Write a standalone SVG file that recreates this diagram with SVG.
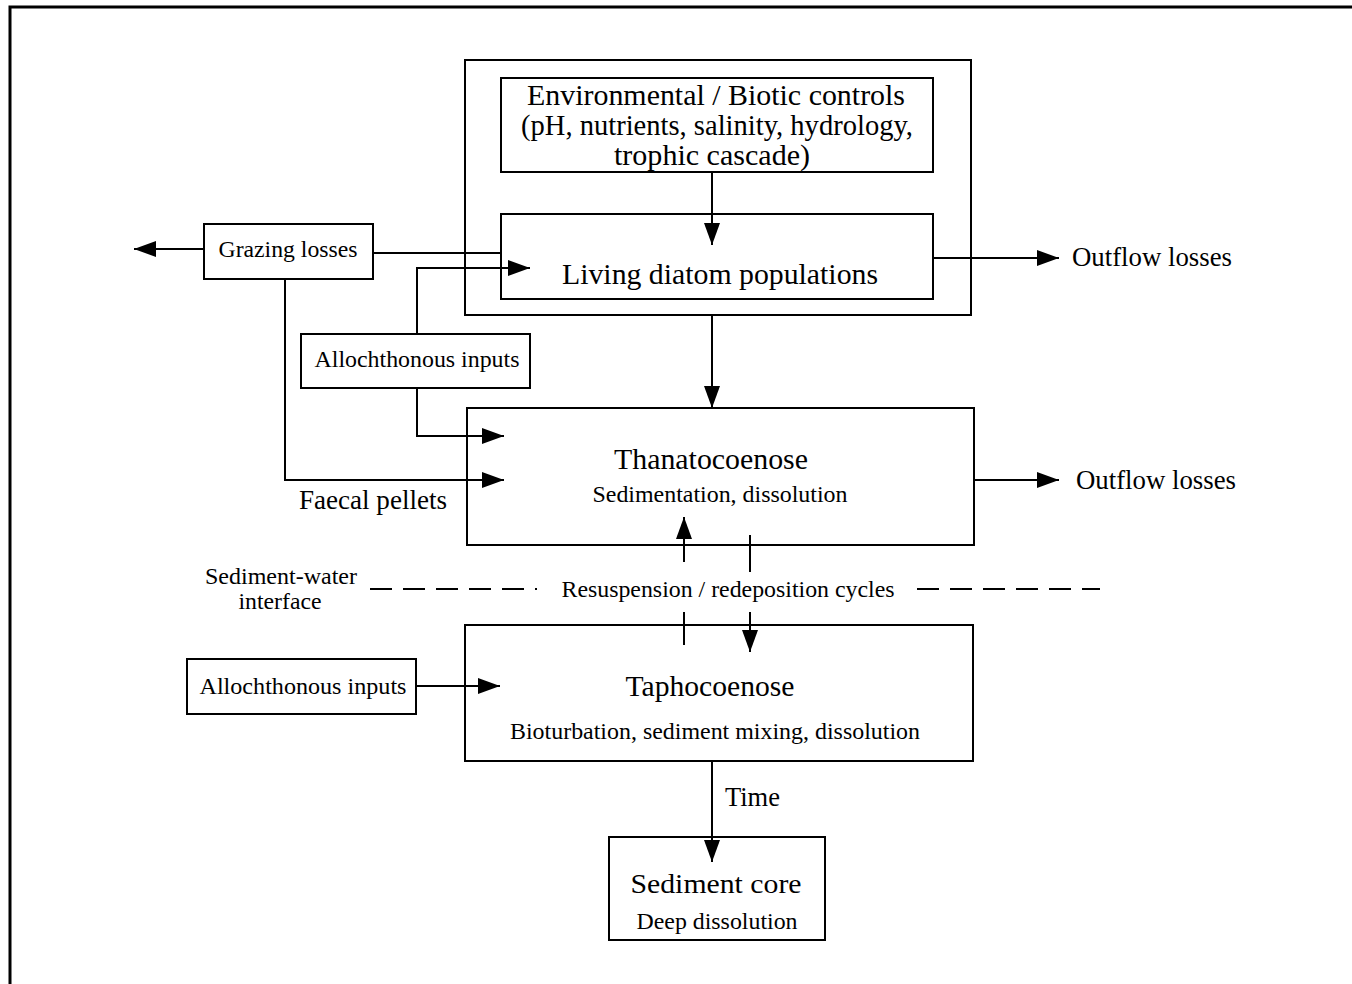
<svg xmlns="http://www.w3.org/2000/svg" width="1352" height="984" viewBox="0 0 1352 984">
<style>
.box{fill:#fff;stroke:#000;stroke-width:2}
.frame{fill:none;stroke:#000;stroke-width:3}
.ln{fill:none;stroke:#000;stroke-width:2}
.dash{fill:none;stroke:#000;stroke-width:2;stroke-dasharray:22,11}
text{font-family:"Liberation Serif","Times New Roman",serif;fill:#000}
.t1{font-size:29px}
.t2{font-size:23.5px}
.t3{font-size:27px}
.c{text-anchor:middle}
</style>
<defs>
<marker id="ah" viewBox="0 0 22 16" refX="22" refY="8" markerWidth="22" markerHeight="16" markerUnits="userSpaceOnUse" orient="auto">
<path d="M0,0 L22,8 L0,16 Z" fill="#000"/>
</marker>
</defs>
<rect width="1352" height="984" fill="#fff"/>
<path class="frame" d="M10,984 V7 H1352"/>

<g id="water-column"><rect x="465" y="60" width="506" height="255" fill="none" stroke="#000" stroke-width="2"/></g>

<g id="env-controls">
<rect class="box" x="501" y="78" width="432" height="94"/>
<text class="t1 c" x="716" y="105" textLength="378" lengthAdjust="spacingAndGlyphs">Environmental / Biotic controls</text>
<text class="t1 c" x="717" y="135" textLength="392" lengthAdjust="spacingAndGlyphs">(pH, nutrients, salinity, hydrology,</text>
<text class="t1 c" x="712" y="165" textLength="196" lengthAdjust="spacingAndGlyphs">trophic cascade)</text>
</g>

<g id="living-diatoms">
<rect class="box" x="501" y="214" width="432" height="85"/>
<text class="t1 c" x="720" y="284" textLength="316" lengthAdjust="spacingAndGlyphs">Living diatom populations</text>
</g>

<g id="grazing-losses">
<rect class="box" x="204" y="224" width="169" height="55"/>
<text class="t2 c" x="288" y="257" textLength="139" lengthAdjust="spacingAndGlyphs">Grazing losses</text>
</g>

<g id="allochthonous-1">
<rect class="box" x="301" y="334" width="229" height="54"/>
<text class="t2 c" x="417" y="367" textLength="205" lengthAdjust="spacingAndGlyphs">Allochthonous inputs</text>
</g>

<g id="outflow-1"><text class="t3" x="1072" y="266" textLength="160" lengthAdjust="spacingAndGlyphs">Outflow losses</text></g>

<g id="thanatocoenose">
<rect class="box" x="467" y="408" width="507" height="137"/>
<text class="t1 c" x="711" y="469" textLength="194" lengthAdjust="spacingAndGlyphs">Thanatocoenose</text>
<text class="t2 c" x="720" y="502" textLength="255" lengthAdjust="spacingAndGlyphs">Sedimentation, dissolution</text>
</g>

<g id="faecal-pellets"><text class="t3" x="299" y="509" textLength="148" lengthAdjust="spacingAndGlyphs">Faecal pellets</text></g>
<g id="outflow-2"><text class="t3" x="1076" y="489" textLength="160" lengthAdjust="spacingAndGlyphs">Outflow losses</text></g>

<g id="interface-label">
<text class="t2 c" x="281" y="584" textLength="152" lengthAdjust="spacingAndGlyphs">Sediment-water</text>
<text class="t2 c" x="280" y="609" textLength="83" lengthAdjust="spacingAndGlyphs">interface</text>
</g>
<g id="resuspension-label"><text class="t2 c" x="728" y="597" textLength="333" lengthAdjust="spacingAndGlyphs">Resuspension / redeposition cycles</text></g>

<g id="taphocoenose">
<rect class="box" x="465" y="625" width="508" height="136"/>
<text class="t1 c" x="710" y="696" textLength="169" lengthAdjust="spacingAndGlyphs">Taphocoenose</text>
<text class="t2 c" x="715" y="739" textLength="410" lengthAdjust="spacingAndGlyphs">Bioturbation, sediment mixing, dissolution</text>
</g>

<g id="allochthonous-2">
<rect class="box" x="187" y="659" width="229" height="55"/>
<text class="t2 c" x="303" y="694" textLength="207" lengthAdjust="spacingAndGlyphs">Allochthonous inputs</text>
</g>

<g id="time-label"><text class="t3" x="725" y="806" textLength="55" lengthAdjust="spacingAndGlyphs">Time</text></g>

<g id="sediment-core">
<rect class="box" x="609" y="837" width="216" height="103"/>
<text class="t3 c" x="716" y="893" textLength="171" lengthAdjust="spacingAndGlyphs">Sediment core</text>
<text class="t2 c" x="717" y="929" textLength="161" lengthAdjust="spacingAndGlyphs">Deep dissolution</text>
</g>

<g id="connectors">
<line class="ln" x1="712" y1="172" x2="712" y2="245" marker-end="url(#ah)"/>
<line class="ln" x1="204" y1="249" x2="134" y2="249" marker-end="url(#ah)"/>
<line class="ln" x1="373" y1="253" x2="501" y2="253"/>
<path class="ln" d="M417,334 V268 H530" marker-end="url(#ah)"/>
<line class="ln" x1="933" y1="258" x2="1059" y2="258" marker-end="url(#ah)"/>
<line class="ln" x1="712" y1="315" x2="712" y2="408" marker-end="url(#ah)"/>
<path class="ln" d="M417,388 V436 H504" marker-end="url(#ah)"/>
<path class="ln" d="M285,279 V480 H504" marker-end="url(#ah)"/>
<line class="ln" x1="974" y1="480" x2="1059" y2="480" marker-end="url(#ah)"/>
<line class="ln" x1="684" y1="645" x2="684" y2="612"/>
<line class="ln" x1="684" y1="562" x2="684" y2="517" marker-end="url(#ah)"/>
<line class="ln" x1="750" y1="535" x2="750" y2="572"/>
<line class="ln" x1="750" y1="612" x2="750" y2="652" marker-end="url(#ah)"/>
<line class="dash" x1="370" y1="589" x2="537" y2="589"/>
<line class="dash" x1="917" y1="589" x2="1100" y2="589"/>
<line class="ln" x1="416" y1="686" x2="500" y2="686" marker-end="url(#ah)"/>
<line class="ln" x1="712" y1="761" x2="712" y2="862" marker-end="url(#ah)"/>
</g>
</svg>
